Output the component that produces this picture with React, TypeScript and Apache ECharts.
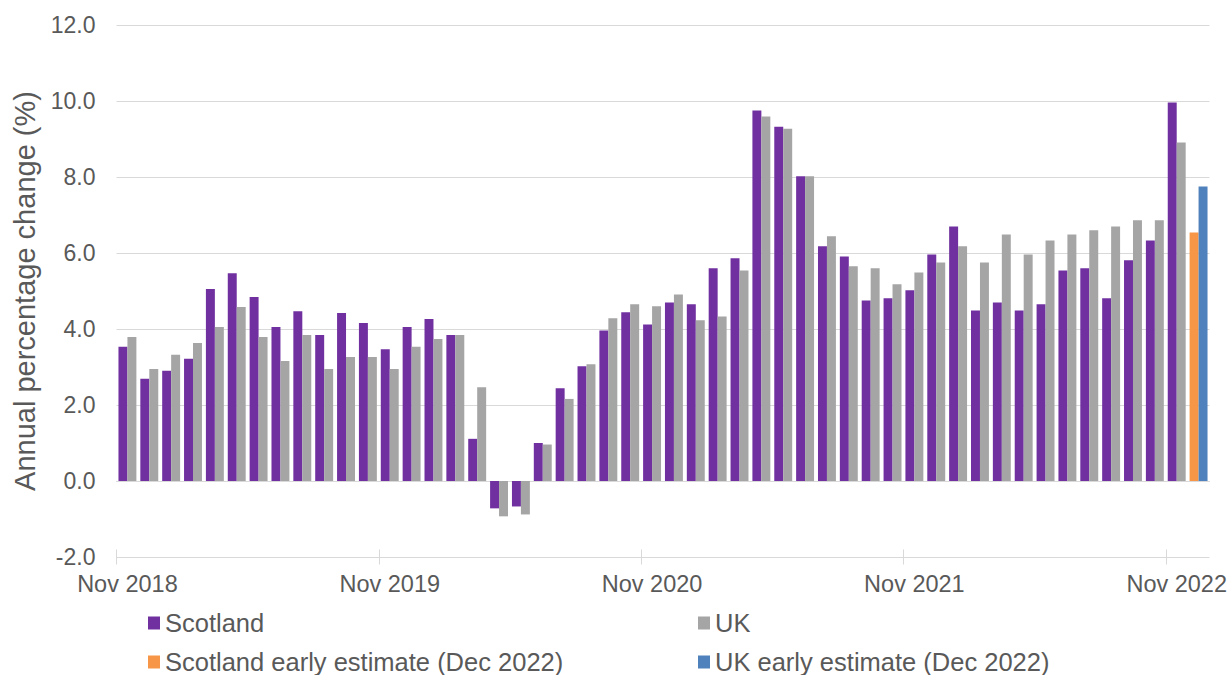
import React, { useEffect, useRef } from "react";
import * as echarts from "echarts";

const months = [
  "Nov 2018", "Dec 2018", "Jan 2019", "Feb 2019", "Mar 2019", "Apr 2019", "May 2019", "Jun 2019", "Jul 2019", "Aug 2019", "Sep 2019", "Oct 2019",
  "Nov 2019", "Dec 2019", "Jan 2020", "Feb 2020", "Mar 2020", "Apr 2020", "May 2020", "Jun 2020", "Jul 2020", "Aug 2020", "Sep 2020", "Oct 2020",
  "Nov 2020", "Dec 2020", "Jan 2021", "Feb 2021", "Mar 2021", "Apr 2021", "May 2021", "Jun 2021", "Jul 2021", "Aug 2021", "Sep 2021", "Oct 2021",
  "Nov 2021", "Dec 2021", "Jan 2022", "Feb 2022", "Mar 2022", "Apr 2022", "May 2022", "Jun 2022", "Jul 2022", "Aug 2022", "Sep 2022", "Oct 2022",
  "Nov 2022", "Dec 2022",
];

// Nov 2018 – Nov 2022
const scotland = [
  3.53, 2.69, 2.9, 3.22, 5.05, 5.47, 4.84, 4.05, 4.47, 3.84, 4.42, 4.16,
  3.47, 4.05, 4.26, 3.84, 1.11, -0.72, -0.67, 1.0, 2.44, 3.02, 3.96, 4.44,
  4.12, 4.7, 4.65, 5.6, 5.86, 9.75, 9.32, 8.02, 6.18, 5.91, 4.75, 4.81,
  5.02, 5.96, 6.7, 4.49, 4.7, 4.49, 4.65, 5.54, 5.6, 4.81, 5.81, 6.33,
  9.96,
];
const uk = [
  3.79, 2.95, 3.32, 3.63, 4.05, 4.58, 3.79, 3.16, 3.84, 2.95, 3.26, 3.26,
  2.95, 3.53, 3.74, 3.84, 2.47, -0.93, -0.88, 0.96, 2.16, 3.07, 4.28, 4.65,
  4.6, 4.91, 4.23, 4.33, 5.54, 9.59, 9.27, 8.02, 6.44, 5.65, 5.6, 5.18,
  5.49, 5.75, 6.18, 5.75, 6.49, 5.96, 6.33, 6.49, 6.6, 6.7, 6.86, 6.86,
  8.91,
];
// Dec 2022 early estimates
const scotlandEarly = [6.54];
const ukEarly = [7.75];

// month indices that carry a tick mark (every November)
const tickIndices = [0, 12, 24, 36, 48];

const seriesNames = [
  "Scotland",
  "UK",
  "Scotland early estimate (Dec 2022)",
  "UK early estimate (Dec 2022)",
];
const seriesColors = ["#7030A0", "#A5A5A5", "#F79646", "#4F81BD"];

const FONT = "'Liberation Sans', Arial, sans-serif";
const TEXT = "#595959";
const GRID = "#D9D9D9";

export default function App() {
  const ref = useRef<HTMLDivElement>(null);

  useEffect(() => {
    if (!ref.current) return;
    const chart = echarts.init(ref.current, null, { renderer: "svg" });
    const n = months.length;
    const pad = (arr: number[]) =>
      months.map((_, i) => (i < arr.length ? arr[i] : null));
    const tail = (arr: number[]) =>
      months.map((_, i) => (i >= n - arr.length ? arr[i - (n - arr.length)] : null));

    const legendBase = {
      orient: "vertical" as const,
      top: 609,
      height: 200,
      padding: 0,
      itemWidth: 12,
      itemHeight: 13,
      itemGap: 11,
      icon: "rect",
      selectedMode: false,
      textStyle: { fontSize: 25.5, color: TEXT, fontFamily: FONT, lineHeight: 28 },
    };

    const barCommon = {
      type: "bar" as const,
      barGap: "0%",
      barCategoryGap: "18%",
      xAxisIndex: 0,
    };

    const tickAxis = (inside: boolean) => ({
      type: "value",
      min: 0,
      max: n,
      position: "bottom",
      axisLine: { show: false, onZero: true },
      axisTick: {
        show: true,
        inside,
        length: 7.5,
        customValues: tickIndices,
        lineStyle: { color: GRID, width: 1 },
      },
      axisLabel: { show: false },
      splitLine: { show: false },
    });

    chart.setOption({
      animation: false,
      backgroundColor: "#ffffff",
      textStyle: { fontFamily: FONT },
      grid: { left: 116.5, right: 21.5, top: 25, bottom: 118, containLabel: false },
      legend: [
        { ...legendBase, left: 148, data: [seriesNames[0], seriesNames[2]] },
        { ...legendBase, left: 698, data: [seriesNames[1], seriesNames[3]] },
      ],
      xAxis: [
        {
          type: "category",
          data: months,
          position: "bottom",
          axisLine: { show: true, onZero: true, lineStyle: { color: GRID, width: 1 } },
          axisTick: { show: false },
          axisLabel: { show: false },
          splitLine: { show: false },
        },
        tickAxis(false),
        tickAxis(true),
        {
          type: "category",
          data: months,
          position: "bottom",
          axisLine: { show: false, onZero: false },
          axisTick: { show: false },
          axisLabel: { show: true, interval: 11, fontSize: 23.5, color: TEXT, fontFamily: FONT, margin: 15 },
          splitLine: { show: false },
        },
      ],
      yAxis: {
        type: "value",
        min: -2,
        max: 12,
        interval: 2,
        axisLine: { show: false },
        axisTick: { show: false },
        splitLine: { show: true, lineStyle: { color: GRID, width: 1 } },
        axisLabel: {
          formatter: (v: number) => v.toFixed(1),
          fontSize: 23,
          color: TEXT,
          fontFamily: FONT,
          margin: 21,
        },
        name: "Annual percentage change (%)",
        nameLocation: "middle",
        nameRotate: 90,
        nameGap: 77,
        nameTextStyle: { fontSize: 29, color: TEXT, fontFamily: FONT },
      },
      series: [
        { ...barCommon, name: seriesNames[0], stack: "scot", data: pad(scotland), itemStyle: { color: seriesColors[0] } },
        { ...barCommon, name: seriesNames[1], stack: "uk", data: pad(uk), itemStyle: { color: seriesColors[1] } },
        { ...barCommon, name: seriesNames[2], stack: "scot", data: tail(scotlandEarly), itemStyle: { color: seriesColors[2] } },
        { ...barCommon, name: seriesNames[3], stack: "uk", data: tail(ukEarly), itemStyle: { color: seriesColors[3] } },
      ],
    });
    return () => chart.dispose();
  }, []);

  return (
    <div
      ref={ref}
      style={{ position: "fixed", left: 0, top: 0, width: 1231, height: 675, background: "#fff" }}
    />
  );
}
